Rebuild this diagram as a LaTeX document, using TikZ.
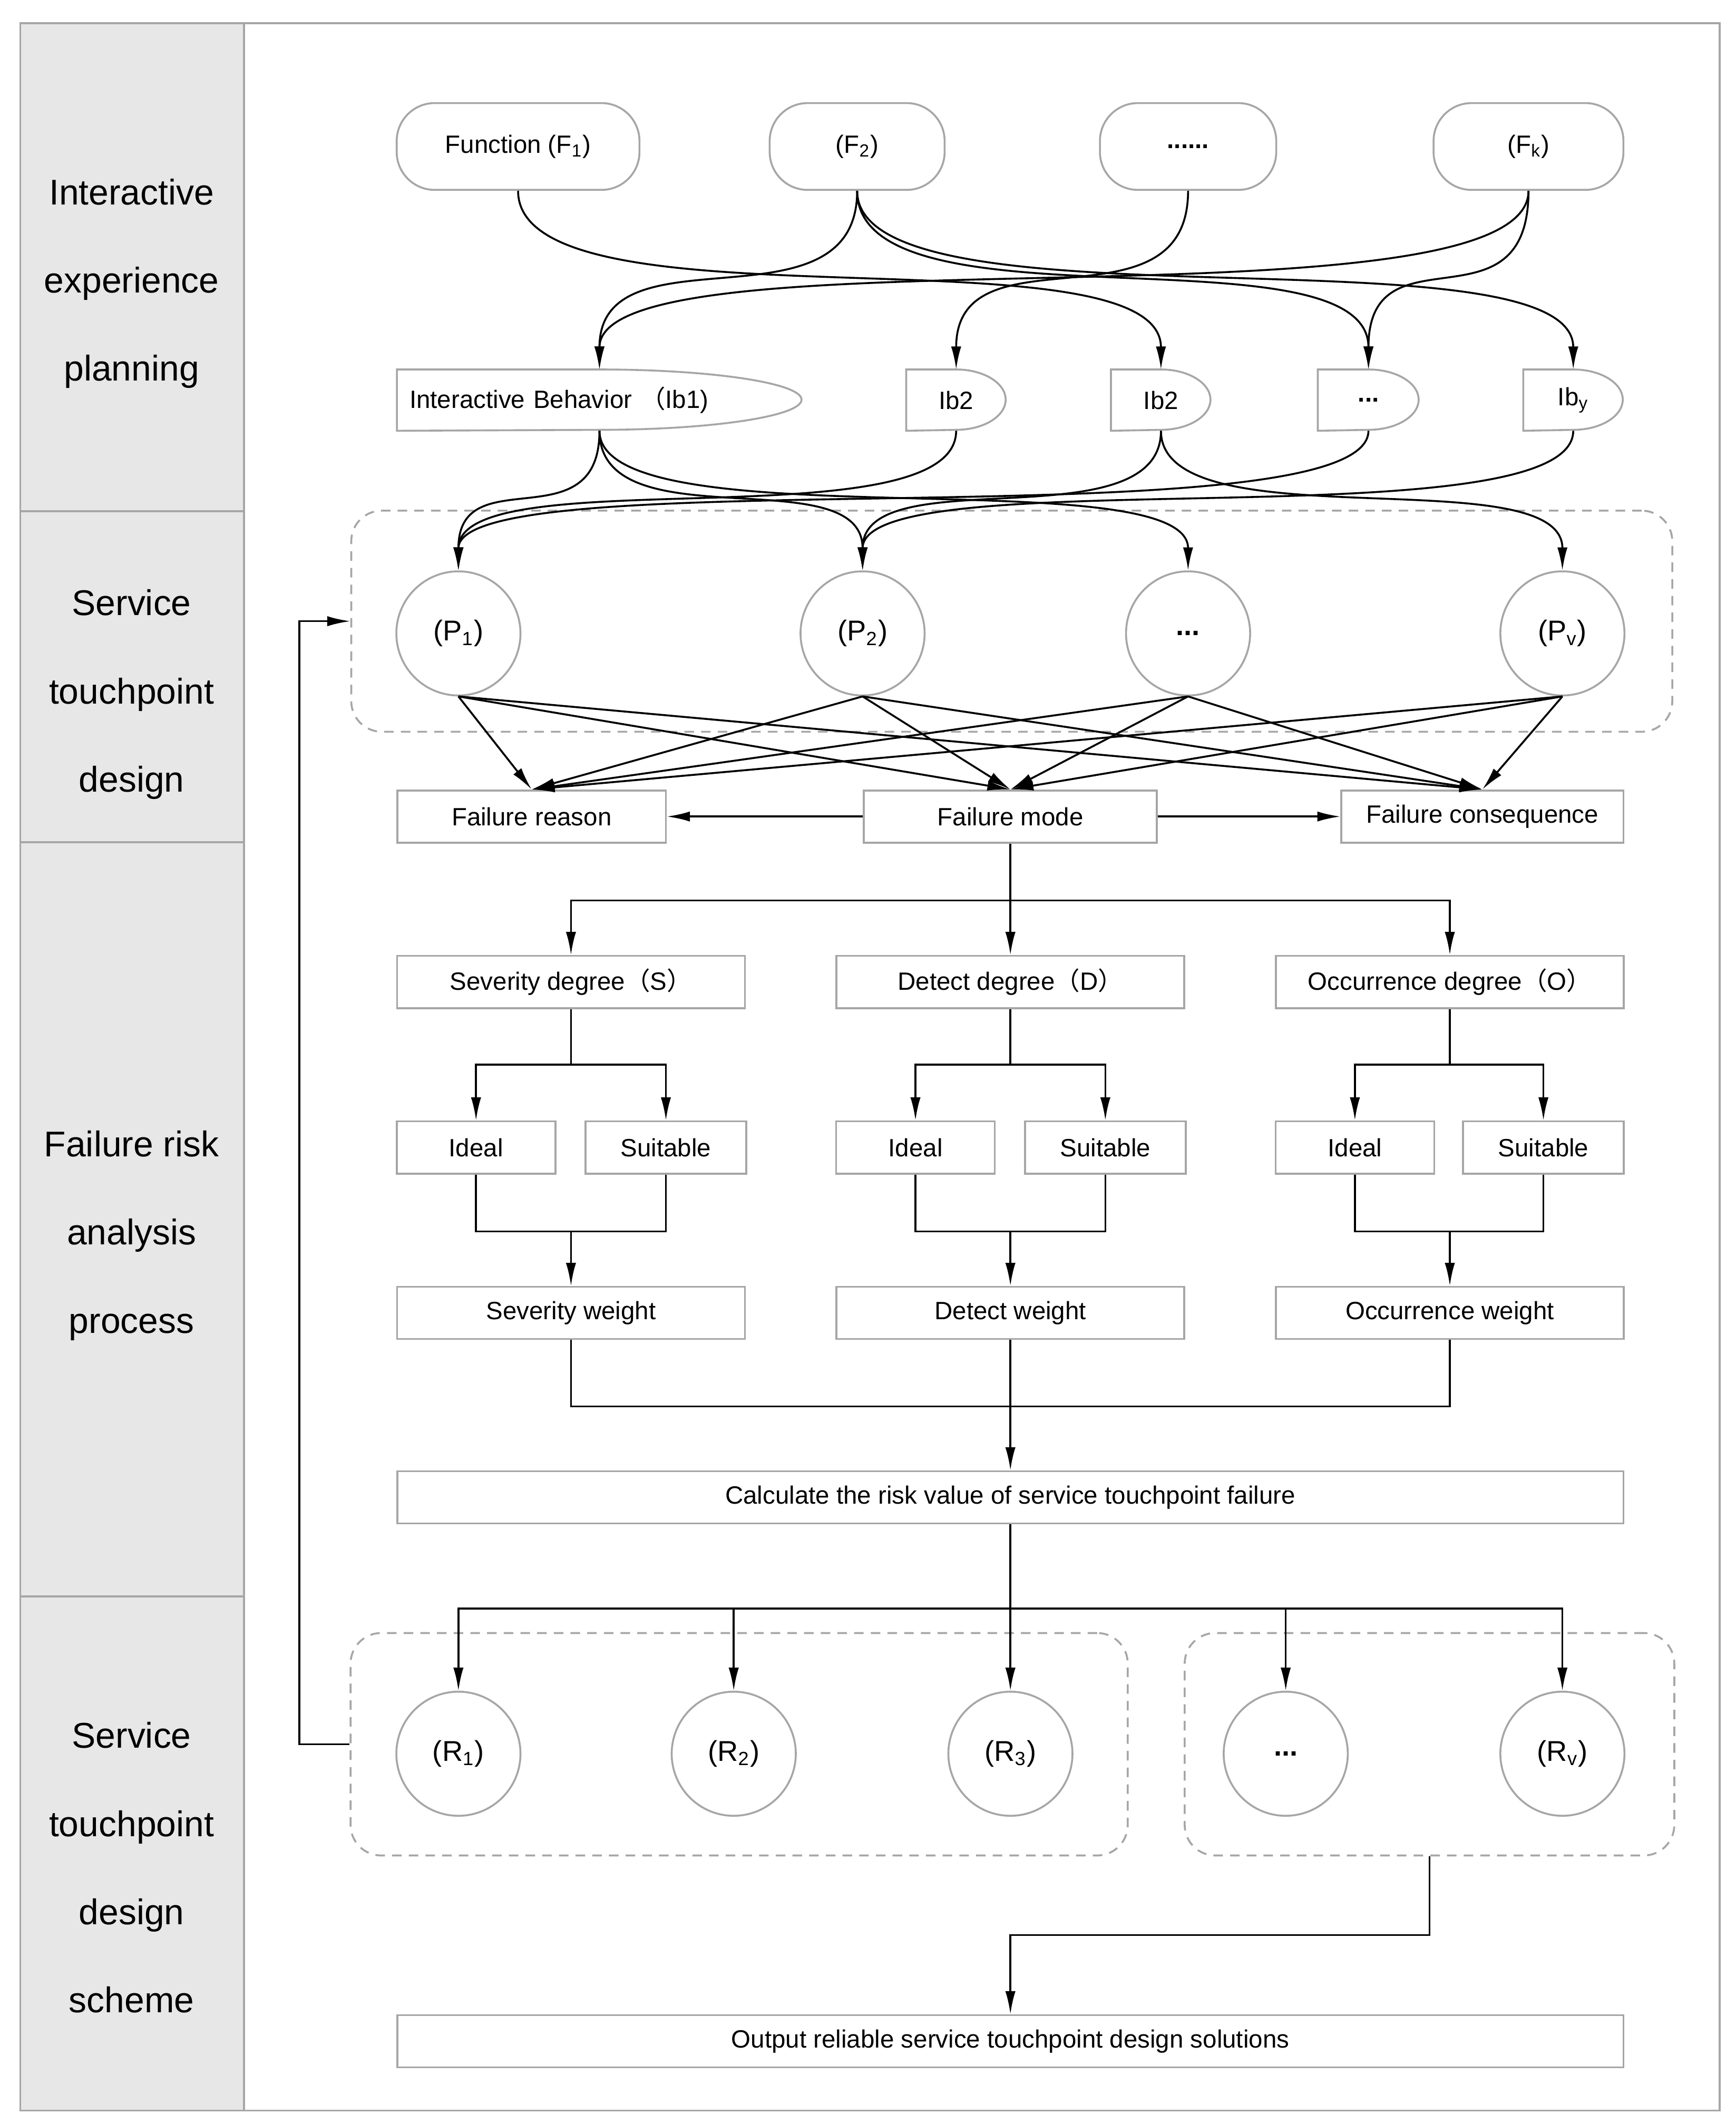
\documentclass[tikz,border=0pt]{standalone}
\usepackage{fontspec}
\setmainfont{Liberation Sans}
\newfontfamily\cjk{Noto Sans CJK SC}
\usetikzlibrary{arrows.meta, shapes.geometric}

\definecolor{boxgray}{HTML}{A6A6A6}
\definecolor{lanefill}{HTML}{E7E7E7}

\newcommand{\lpar}{{\cjk （}}
\newcommand{\rpar}{{\cjk ）}}

\tikzset{
  lanelabel/.style={align=center, font=\fontsize{15}{37}\selectfont},
  funcbox/.style={rectangle, rounded corners=0.56cm, minimum height=1.28cm, draw=boxgray, line width=0.8pt, font=\fontsize{10.5}{12}\selectfont},
  ibbox/.style={rectangle, minimum height=0.89cm, inner sep=0pt, font=\fontsize{10.5}{12}\selectfont},
  touch/.style={circle, minimum size=1.83cm, inner sep=0pt, draw=boxgray, line width=0.8pt, font=\fontsize{12}{14}\selectfont},
  stepbox/.style={rectangle, minimum height=0.77cm, draw=boxgray, line width=0.8pt, font=\fontsize{10.5}{12}\selectfont},
  tpgroup/.style={rectangle, rounded corners=0.45cm, draw=boxgray, dash pattern=on 4pt off 3pt, line width=0.8pt, minimum height=3.28cm},
  frameline/.style={draw=boxgray, line width=0.8pt},
  joinline/.style={line width=0.8pt},
  arrow/.style={line width=0.8pt, -{Latex[length=3.4mm,width=1.5mm]}},
}

\begin{document}
\begin{tikzpicture}[x=0.2mm, y=-0.2mm]
\useasboundingbox (0,0) rectangle (1280,1566);

% swimlanes
\fill[lanefill] (15,17) rectangle (180,1556);
\draw[frameline] (15,17) rectangle (1268,1556);
\draw[frameline] (180,17) -- (180,1556);
\draw[frameline] (15,377) -- (180,377);
\draw[frameline] (15,621) -- (180,621);
\draw[frameline] (15,1177) -- (180,1177);

\node[lanelabel] (lane1) at (97,209) {Interactive\\experience\\planning};
\node[lanelabel] (lane2) at (97,512) {Service\\touchpoint\\design};
\node[lanelabel] (lane3) at (97,911) {Failure risk\\analysis\\process};
\node[lanelabel] (lane4) at (97,1377) {Service\\touchpoint\\design\\scheme};

% functions
\node[funcbox, minimum width=3.58cm] (f1) at (382,108) {Function (F\textsubscript{1})};
\node[funcbox, minimum width=2.58cm] (f2) at (632,108) {(F\textsubscript{2})};
\node[funcbox, minimum width=2.6cm] (fdots) at (876,108) {\textbf{......}};
\node[funcbox, minimum width=2.8cm] (fk) at (1127,108) {(F\textsubscript{k})};

% interactive behaviours
\node[ibbox, minimum width=5.96cm, text width=5.6cm, align=left] (ib1) at (442,295) {Interactive Behavior \lpar Ib1)};
\node[ibbox, minimum width=1.46cm] (ib2) at (705,295) {Ib2};
\node[ibbox, minimum width=1.46cm] (ib3) at (856,295) {Ib2};
\node[ibbox, minimum width=1.48cm] (ib4) at (1009,295) {\textbf{...}};
\node[ibbox, minimum width=1.46cm] (iby) at (1160,295) {Ib\textsubscript{y}};
\foreach \n/\w in {ib1/2.98, ib2/0.73, ib3/0.73, ib4/0.74, iby/0.73}
  \draw[frameline] (\n.north west) -- (\n.north) arc[start angle=90, end angle=-90, x radius=\w cm, y radius=0.445cm] -- (\n.south west) -- cycle;

% touchpoints
\node[touch] (p1) at (338,467) {(P\textsubscript{1})};
\node[touch] (p2) at (636,467) {(P\textsubscript{2})};
\node[touch] (pdots) at (876,467) {\textbf{...}};
\node[touch] (pv) at (1152,467) {(P\textsubscript{v})};
\node[tpgroup, minimum width=19.48cm, minimum height=3.26cm] (pgroup) at (746,458) {};

% failure analysis
\node[stepbox, minimum width=3.96cm] (freason) at (392,602) {Failure reason};
\node[stepbox, minimum width=4.32cm] (fmode) at (745,602) {Failure mode};
\node[stepbox, minimum width=4.16cm] (fcons) at (1093,602) {Failure consequence};

\node[stepbox, minimum width=5.13cm] (sev) at (421,724) {Severity degree\lpar S\rpar};
\node[stepbox, minimum width=5.13cm] (det) at (745,724) {Detect degree\lpar D\rpar};
\node[stepbox, minimum width=5.13cm] (occ) at (1069,724) {Occurrence degree\lpar O\rpar};

\node[stepbox, minimum width=2.34cm] (ideal-sev) at (351,846) {Ideal};
\node[stepbox, minimum width=2.37cm] (suit-sev) at (491,846) {Suitable};
\node[stepbox, minimum width=2.34cm] (ideal-det) at (675,846) {Ideal};
\node[stepbox, minimum width=2.37cm] (suit-det) at (815,846) {Suitable};
\node[stepbox, minimum width=2.34cm] (ideal-occ) at (999,846) {Ideal};
\node[stepbox, minimum width=2.37cm] (suit-occ) at (1138,846) {Suitable};

\node[stepbox, minimum width=5.13cm] (weight-sev) at (421,968) {Severity weight};
\node[stepbox, minimum width=5.13cm] (weight-det) at (745,968) {Detect weight};
\node[stepbox, minimum width=5.13cm] (weight-occ) at (1069,968) {Occurrence weight};

\node[stepbox, minimum width=18.08cm] (riskcalc) at (745,1104) {Calculate the risk value of service touchpoint failure};

% design scheme
\node[touch] (r1) at (338,1293) {(R\textsubscript{1})};
\node[touch] (r2) at (541,1293) {(R\textsubscript{2})};
\node[touch] (r3) at (745,1293) {(R\textsubscript{3})};
\node[touch] (rdots) at (948,1293) {\textbf{...}};
\node[touch] (rv) at (1152,1293) {(R\textsubscript{v})};
\node[tpgroup, minimum width=11.46cm] (rgroup1) at (545,1286) {};
\node[tpgroup, minimum width=7.22cm] (rgroup2) at (1054,1286) {};

\node[stepbox, minimum width=18.08cm] (output) at (745,1505) {Output reliable service touchpoint design solutions};

% connectors
\foreach \a/\b in {f1/ib3, f2/ib1, f2/ib4, f2/iby, fdots/ib2, fk/ib1, fk/ib4}
  \draw[arrow] (\a.south) .. controls +(0,107) and +(0,-107) .. (\b.north);
\foreach \a/\b in {ib1/p1, ib1/p2, ib1/pdots, ib2/p1, ib3/p2, ib3/pv, ib4/p1, iby/p2}
  \draw[arrow] (\a.south) .. controls +(0,83) and +(0,-83) .. (\b.north);

\foreach \p in {p1,p2,pdots,pv}
  \foreach \f in {freason,fmode,fcons}
    \draw[arrow] (\p.south) -- (\f.north);

\draw[arrow] (fmode) -- (freason);
\draw[arrow] (fmode) -- (fcons);

\draw[joinline] (fmode.south) -- ++(0,42) coordinate (split);
\foreach \g in {sev,det,occ}
  \draw[arrow] (split) -| (\g.north);

\foreach \g in {sev,det,occ}{
  \draw[joinline] (\g.south) -- ++(0,41) coordinate (fork);
  \draw[arrow] (fork) -| (ideal-\g.north);
  \draw[arrow] (fork) -| (suit-\g.north);
  \draw[joinline] (ideal-\g.south) -- ++(0,42) coordinate (merge) -| (suit-\g.south);
  \draw[arrow] (merge -| weight-\g.north) -- (weight-\g.north);
}

\draw[joinline] (weight-sev.south) -- ++(0,49) -| (weight-occ.south);
\draw[arrow] (weight-det.south) -- (riskcalc.north);

\draw[joinline] (riskcalc.south) -- ++(0,62) coordinate (spread);
\foreach \r in {r1,r2,r3,rdots,rv}
  \draw[arrow] (spread) -| (\r.north);

\draw[arrow] (rgroup2.south) -- ++(0,58) -| (output.north);
\draw[arrow] (rgroup1.west) -- ++(-37,0) |- (pgroup.west);

\end{tikzpicture}
\end{document}
